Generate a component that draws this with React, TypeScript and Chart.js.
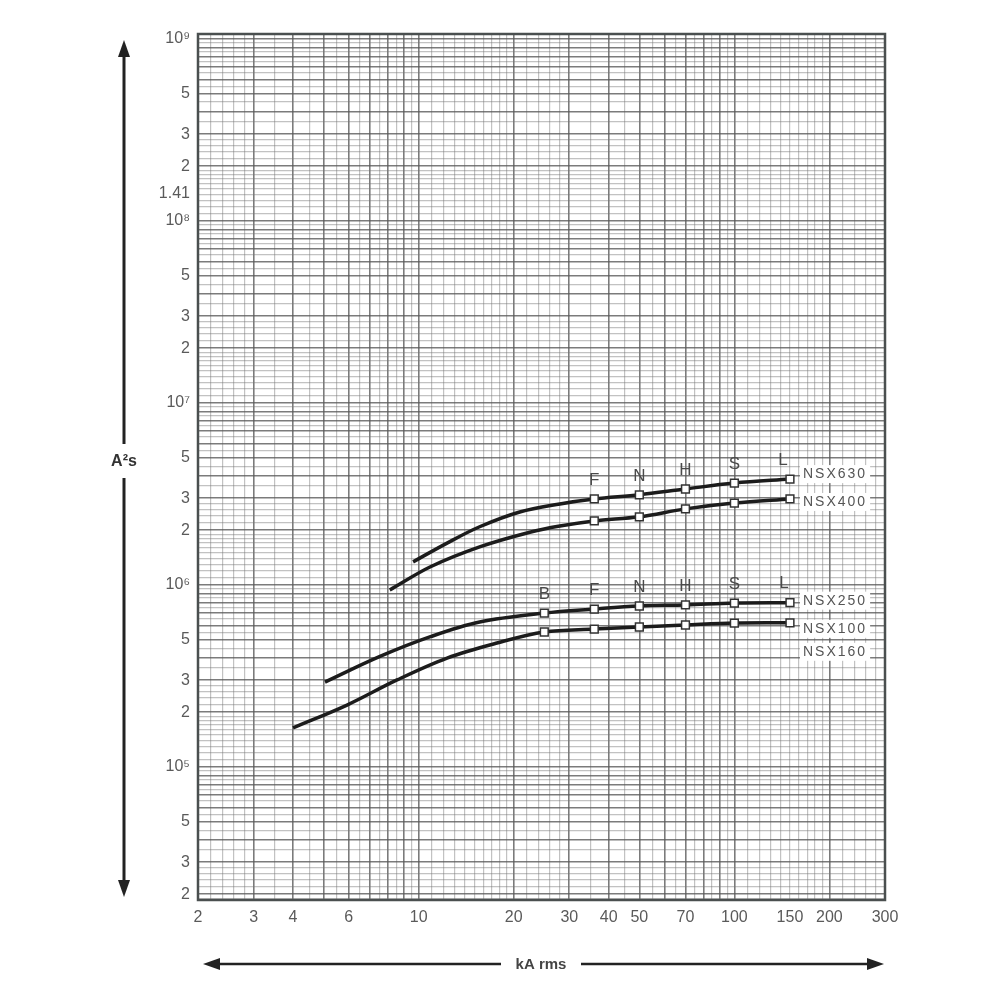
import React, { useEffect, useRef } from 'react';
import { Chart, registerables } from 'chart.js';

Chart.register(...registerables);

// ---- Data ----
const ratingLetters = ['B', 'F', 'N', 'H', 'S', 'L'];
const ratingKA = [25, 36, 50, 70, 100, 150];

const nsx630Current = [9.6, 12.3, 15.6, 20.9, 28, 36, 50, 70, 100, 150];
const nsx630Energy = [1.34e6, 1.7e6, 2.09e6, 2.52e6, 2.79e6, 2.97e6, 3.13e6, 3.37e6, 3.63e6, 3.82e6];

const nsx400Current = [8.1, 10.9, 15.6, 22.5, 28, 36, 50, 70, 100, 150];
const nsx400Energy = [9.4e5, 1.26e6, 1.62e6, 1.95e6, 2.11e6, 2.25e6, 2.37e6, 2.62e6, 2.82e6, 2.97e6];

const nsx250Current = [5.05, 7.54, 10.9, 15.6, 25, 36, 50, 70, 100, 150];
const nsx250Energy = [2.93e5, 4.05e5, 5.2e5, 6.26e5, 7.01e5, 7.38e5, 7.67e5, 7.77e5, 7.96e5, 8.0e5];

const nsx100Current = [4.0, 5.93, 8.54, 12.3, 17.7, 25, 36, 50, 70, 100, 150];
const nsx100Energy = [1.64e5, 2.19e5, 3.01e5, 3.97e5, 4.8e5, 5.52e5, 5.73e5, 5.88e5, 6.03e5, 6.18e5, 6.2e5];

const upperLetters = ['F', 'N', 'H', 'S', 'L'];
const lowerLetters = ['B', 'F', 'N', 'H', 'S', 'L'];

const xTickValues = [2, 3, 4, 6, 10, 20, 30, 40, 50, 70, 100, 150, 200, 300];
const xTickLabels = ['2', '3', '4', '6', '10', '20', '30', '40', '50', '70', '100', '150', '200', '300'];

const yTickValues = [2e4, 3e4, 5e4, 1e5, 2e5, 3e5, 5e5, 1e6, 2e6, 3e6, 5e6, 1e7, 2e7, 3e7, 5e7, 1e8, 1.41e8, 2e8, 3e8, 5e8, 1e9];
const yTickLabels = ['2', '3', '5', '10⁵', '2', '3', '5', '10⁶', '2', '3', '5', '10⁷', '2', '3', '5', '10⁸', '1.41', '2', '3', '5', '10⁹'];

const gridMantissas = [1, 1.1, 1.2, 1.3, 1.4, 1.5, 1.6, 1.7, 1.8, 1.9, 2, 2.2, 2.4, 2.6, 2.8, 3, 3.5, 4, 4.5, 5, 5.5, 6, 6.5, 7, 7.5, 8, 8.5, 9, 9.5];

const X_MIN = 2;
const X_MAX = 300;
const Y_MIN = 1.86e4;
const Y_MAX = 1.065e9;

const FONT = 'Liberation Sans, Arial, Helvetica, sans-serif';

function gridValues(min: number, max: number, extra: number[]): number[] {
  const out: number[] = [];
  for (let d = Math.floor(Math.log10(min)); d <= Math.ceil(Math.log10(max)); d++) {
    for (const m of gridMantissas) {
      const v = +(m * Math.pow(10, d)).toPrecision(6);
      if (v >= min * 0.9999 && v <= max * 1.0001) out.push(v);
    }
  }
  for (const e of extra) if (!out.some((v) => Math.abs(v / e - 1) < 1e-6)) out.push(e);
  return out.sort((a, b) => a - b);
}

function findLabel(values: number[], labels: string[], v: number): string {
  for (let i = 0; i < values.length; i++) {
    if (Math.abs(v / values[i] - 1) < 1e-6) return labels[i];
  }
  return '';
}

function isMajor(v: number): boolean {
  const m = v / Math.pow(10, Math.floor(Math.log10(v) + 1e-9));
  return Math.abs(m - Math.round(m)) < 1e-6;
}

function pts(xs: number[], ys: number[]) {
  return xs.map((x, i) => ({ x, y: ys[i] }));
}

function energyAt(currents: number[], energies: number[], ka: number): number {
  const i = currents.indexOf(ka);
  return energies[i];
}

function arrowHead(ctx: CanvasRenderingContext2D, x: number, y: number, dx: number, dy: number) {
  const len = 17;
  const half = 6;
  const bx = x - dx * len;
  const by = y - dy * len;
  ctx.beginPath();
  ctx.moveTo(x, y);
  ctx.lineTo(bx - dy * half, by + dx * half);
  ctx.lineTo(bx + dy * half, by - dx * half);
  ctx.closePath();
  ctx.fill();
}

const decorPlugin = {
  id: 'decor',
  beforeDatasetsDraw(chart: any) {
    const { ctx, chartArea: a } = chart;
    ctx.save();
    ctx.strokeStyle = '#4a4f4f';
    ctx.lineWidth = 2.5;
    ctx.strokeRect(a.left, a.top, a.right - a.left, a.bottom - a.top);
    ctx.restore();
  },
  afterDatasetsDraw(chart: any) {
    const { ctx, chartArea: a } = chart;
    const xs = chart.scales.x;
    const ys = chart.scales.y;
    ctx.save();

    // rating letters
    ctx.font = `17px ${FONT}`;
    ctx.fillStyle = '#4a4a4a';
    ctx.textAlign = 'center';
    ctx.textBaseline = 'middle';
    upperLetters.forEach((letter) => {
      const ka = ratingKA[ratingLetters.indexOf(letter)];
      const px = xs.getPixelForValue(ka) - (letter === 'L' ? 7 : 0);
      const py = ys.getPixelForValue(energyAt(nsx630Current, nsx630Energy, ka)) - 19;
      ctx.fillText(letter, px, py);
    });
    lowerLetters.forEach((letter) => {
      const ka = ratingKA[ratingLetters.indexOf(letter)];
      const px = xs.getPixelForValue(ka) - (letter === 'L' ? 6 : 0);
      const py = ys.getPixelForValue(energyAt(nsx250Current, nsx250Energy, ka)) - 19;
      ctx.fillText(letter, px, py);
    });

    // curve labels
    const lastKA = ratingKA[ratingKA.length - 1];
    const labelX = xs.getPixelForValue(lastKA) + 13;
    const curveLabels = [
      { text: 'NSX630', y: ys.getPixelForValue(nsx630Energy[nsx630Energy.length - 1]) - 5 },
      { text: 'NSX400', y: ys.getPixelForValue(nsx400Energy[nsx400Energy.length - 1]) + 3 },
      { text: 'NSX250', y: ys.getPixelForValue(nsx250Energy[nsx250Energy.length - 1]) - 2 },
      { text: 'NSX100', y: ys.getPixelForValue(nsx100Energy[nsx100Energy.length - 1]) + 6 },
      { text: 'NSX160', y: ys.getPixelForValue(nsx100Energy[nsx100Energy.length - 1]) + 29 },
    ];
    ctx.font = `14px ${FONT}`;
    (ctx as any).letterSpacing = '2px';
    ctx.textAlign = 'left';
    curveLabels.forEach((l) => {
      const w = ctx.measureText(l.text).width;
      ctx.fillStyle = '#ffffff';
      ctx.fillRect(labelX - 3, l.y - 9, w + 6, 18);
      ctx.fillStyle = '#555';
      ctx.fillText(l.text, labelX, l.y);
    });
    (ctx as any).letterSpacing = '0px';

    // vertical arrow (A²s)
    ctx.strokeStyle = '#222';
    ctx.fillStyle = '#222';
    ctx.lineWidth = 3;
    const vx = 124;
    const vTop = a.top + 6;
    const vBot = a.bottom - 3;
    const vMid = 462;
    ctx.beginPath();
    ctx.moveTo(vx, vTop + 10);
    ctx.lineTo(vx, vMid - 18);
    ctx.moveTo(vx, vMid + 16);
    ctx.lineTo(vx, vBot - 10);
    ctx.stroke();
    arrowHead(ctx, vx, vTop, 0, -1);
    arrowHead(ctx, vx, vBot, 0, 1);
    ctx.font = `bold 16px ${FONT}`;
    ctx.fillStyle = '#333';
    ctx.textAlign = 'center';
    ctx.fillText('A²s', vx, vMid);

    // horizontal arrow (kA rms)
    ctx.fillStyle = '#222';
    ctx.lineWidth = 2.5;
    const hy = 964;
    const hL = a.left + 5;
    const hR = a.right - 1;
    const hMid = 541;
    ctx.beginPath();
    ctx.moveTo(hL + 10, hy);
    ctx.lineTo(hMid - 40, hy);
    ctx.moveTo(hMid + 40, hy);
    ctx.lineTo(hR - 10, hy);
    ctx.stroke();
    arrowHead(ctx, hL, hy, -1, 0);
    arrowHead(ctx, hR, hy, 1, 0);
    ctx.font = `bold 15px ${FONT}`;
    ctx.fillStyle = '#444';
    ctx.fillText('kA rms', hMid, hy + 1);

    ctx.restore();
  },
};

const xGrid = gridValues(X_MIN, X_MAX, []);
const yGrid = gridValues(Y_MIN, Y_MAX, [1.41e8]);

const MINOR_COLOR = 'rgba(120,120,120,0.45)';
const MAJOR_COLOR = 'rgba(90,90,90,0.8)';

export default function App() {
  const ref = useRef<HTMLCanvasElement>(null);

  useEffect(() => {
    if (!ref.current) return;
    const pointRadius = (c: any) => (c.raw && ratingKA.includes(c.raw.x) ? 5.5 : 0);
    const lineStyle = {
      borderColor: '#1c1c1c',
      borderWidth: 3.5,
      tension: 0.35,
      pointStyle: 'rect' as const,
      pointRadius,
      pointHoverRadius: pointRadius,
      pointBackgroundColor: '#ffffff',
      pointBorderColor: '#333',
      pointBorderWidth: 1.5,
      fill: false,
    };

    const chart = new Chart(ref.current, {
      type: 'line',
      data: {
        datasets: [
          { label: 'NSX630', data: pts(nsx630Current, nsx630Energy), ...lineStyle },
          { label: 'NSX400', data: pts(nsx400Current, nsx400Energy), ...lineStyle },
          { label: 'NSX250', data: pts(nsx250Current, nsx250Energy), ...lineStyle },
          { label: 'NSX100 / NSX160', data: pts(nsx100Current, nsx100Energy), ...lineStyle },
        ],
      },
      options: {
        responsive: false,
        maintainAspectRatio: false,
        animation: false,
        devicePixelRatio: 1,
        layout: { padding: { left: 0, top: 34, right: 115, bottom: 0 } },
        plugins: {
          legend: { display: false },
          tooltip: { enabled: false },
        },
        scales: {
          x: {
            type: 'logarithmic',
            min: X_MIN,
            max: X_MAX,
            afterFit: (s: any) => {
              s.height = 100;
            },
            afterBuildTicks: (s: any) => {
              s.ticks = xGrid.map((v) => ({ value: v }));
            },
            border: { display: false },
            grid: {
              drawTicks: false,
              color: (c: any) => (c.tick && isMajor(c.tick.value) ? MAJOR_COLOR : MINOR_COLOR),
              lineWidth: (c: any) => (c.tick && isMajor(c.tick.value) ? 1.6 : 1.2),
            },
            ticks: {
              autoSkip: false,
              maxRotation: 0,
              minRotation: 0,
              padding: 8,
              color: '#5a5a5a',
              font: { size: 16, family: FONT },
              callback: (v: any) => findLabel(xTickValues, xTickLabels, Number(v)),
            },
          },
          y: {
            type: 'logarithmic',
            min: Y_MIN,
            max: Y_MAX,
            afterFit: (s: any) => {
              s.width = 198;
            },
            afterBuildTicks: (s: any) => {
              s.ticks = yGrid.map((v) => ({ value: v }));
            },
            border: { display: false },
            grid: {
              drawTicks: false,
              color: (c: any) =>
                c.tick && Math.abs(c.tick.value / 1.41e8 - 1) < 1e-6
                  ? 'rgba(0,0,0,0)'
                  : c.tick && isMajor(c.tick.value)
                  ? MAJOR_COLOR
                  : MINOR_COLOR,
              lineWidth: (c: any) => (c.tick && isMajor(c.tick.value) ? 1.6 : 1.2),
            },
            ticks: {
              autoSkip: false,
              padding: 8,
              color: '#5a5a5a',
              font: { size: 16, family: FONT },
              callback: (v: any) => findLabel(yTickValues, yTickLabels, Number(v)),
            },
          },
        },
      },
      plugins: [decorPlugin],
    });

    return () => chart.destroy();
  }, []);

  return (
    <div style={{ position: 'absolute', left: 0, top: 0, width: 1000, height: 1000, background: '#ffffff' }}>
      <canvas ref={ref} width={1000} height={1000} style={{ width: 1000, height: 1000, display: 'block' }} />
    </div>
  );
}
